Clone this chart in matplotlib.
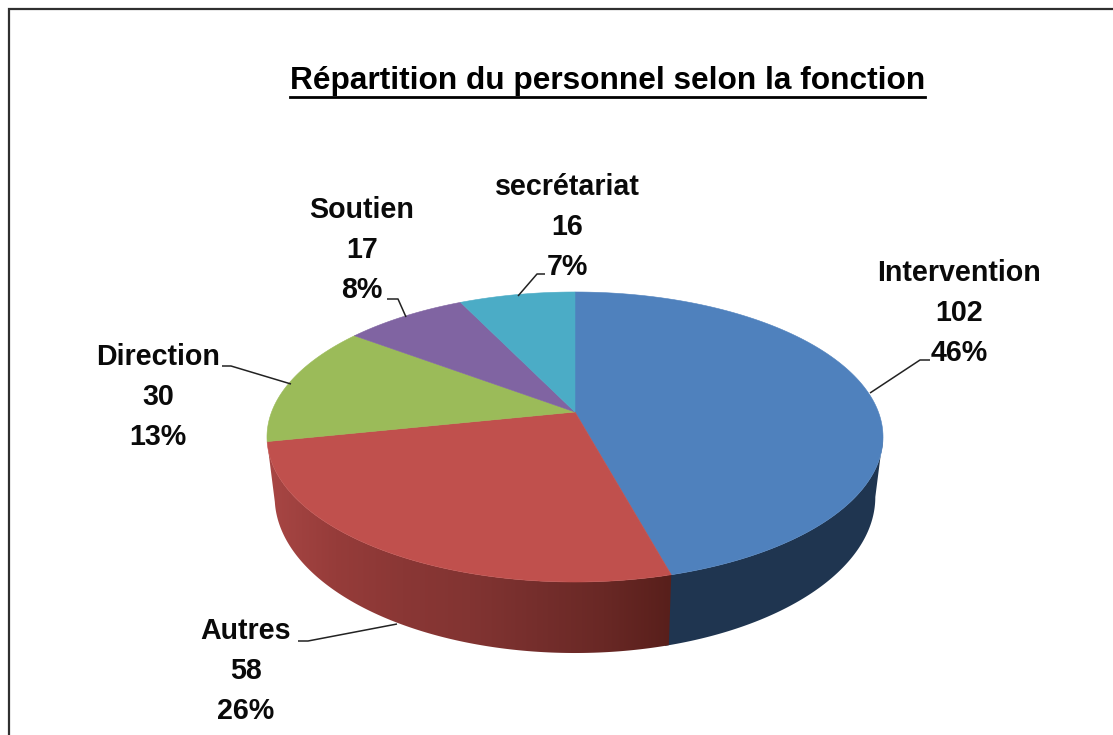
import numpy as np
import matplotlib
matplotlib.use("Agg")
import matplotlib.pyplot as plt
from matplotlib.colors import LinearSegmentedColormap
from matplotlib.patches import Polygon

# Data
categories = ["Intervention", "Autres", "Direction", "Soutien", "secrétariat"]
values = [102, 58, 30, 17, 16]
percents = ["46%", "26%", "13%", "8%", "7%"]
title = "Répartition du personnel selon la fonction"

# Style
top_colors = ["#4f81bd", "#c0504d", "#9bbb59", "#8064a2", "#4bacc6"]
blue_side = "#1f3550"
red_stops = ["#a84644", "#963c3a", "#8a3735", "#823432", "#752e2c", "#692825", "#581f1b"]
label_pos = [(959, 313), (246, 671), (158, 397), (362, 250), (567, 227)]
leaders = [
    [(870, 393), (920, 360), (930, 360)],
    [(397, 624), (308, 641), (298, 641)],
    [(291, 384), (231, 366), (222, 366)],
    [(406, 317), (398, 299), (387, 299)],
    [(518, 296), (537, 274), (545, 274)],
]

plt.rcParams['font.family'] = ['Liberation Sans', 'DejaVu Sans']
fig = plt.figure(figsize=(11.13, 7.35), dpi=100)
ax = fig.add_axes([0, 0, 1, 1])
ax.axis("off")

# frame: only the top and left edges are visible in the crop
ax.plot([9, 9, 1113], [735, 9, 9], color="#303030", lw=1.6, solid_joinstyle="miter")

CX, CY = 575.0, 412.0
K, A, B = 0.1724, 303.4, 140.7


def top_xy(theta):
    """theta: radians clockwise from 12 o'clock; perspective projection of the disc."""
    u, v = np.sin(theta), np.cos(theta)
    d = 1 + K * v
    return CX + A * u / d, CY - B * v / d


def bot_xy(theta):
    x, y = top_xy(theta)
    return CX + (x - CX) * 0.975, 497 + (y - 437) * (156 / 145)


def side_poly(a0, a1):
    th = np.linspace(a0, a1, 300)
    xt, yt = top_xy(th)
    xb, yb = bot_xy(th[::-1])
    return np.column_stack([np.r_[xt, xb], np.r_[yt, yb]])


fracs = np.array(values, float) / sum(values)
edges = np.concatenate([[0], np.cumsum(fracs)]) * 2 * np.pi

# side wall: flat blue part from the right extreme of the disc, then the red part
# with a horizontal gradient clipped to its outline
right_extreme = np.arccos(-K)
ax.add_patch(Polygon(side_poly(right_extreme, edges[1] + 0.012), closed=True, fc=blue_side, ec="none", zorder=1))
red_patch = Polygon(side_poly(edges[1], edges[2]), closed=True, fc="none", ec="none", zorder=1)
ax.add_patch(red_patch)
cmap = LinearSegmentedColormap.from_list("redside", red_stops)
img = ax.imshow(np.linspace(0, 1, 256)[None, :], cmap=cmap, extent=(268, 672, 735, 0), aspect="auto",
                interpolation="bilinear", zorder=1.5)
img.set_clip_path(red_patch)

# top surface
for i in range(len(values)):
    th = np.linspace(edges[i], edges[i + 1], 200)
    x, y = top_xy(th)
    ax.fill(np.r_[CX, x], np.r_[CY, y], color=top_colors[i], lw=0.4, ec=top_colors[i], zorder=2)

# leaders and labels
for i, cat in enumerate(categories):
    pts = np.array(leaders[i])
    ax.plot(pts[:, 0], pts[:, 1], color="#222222", lw=1.1, solid_capstyle="butt", zorder=3)
    ax.text(label_pos[i][0], label_pos[i][1], f"{cat}\n{values[i]}\n{percents[i]}",
            ha="center", va="center", fontsize=20.6, fontweight="bold", color="#0a0a0a",
            linespacing=1.53)

# title
ax.text(607.5, 81, title, ha="center", va="center", fontsize=22.8, fontweight="bold", color="black")
ax.plot([290, 925], [96.5, 96.5], color="black", lw=2, zorder=3)

ax.set_xlim(0, 1113)
ax.set_ylim(735, 0)
fig.savefig("out.png", dpi=100, facecolor="white")
